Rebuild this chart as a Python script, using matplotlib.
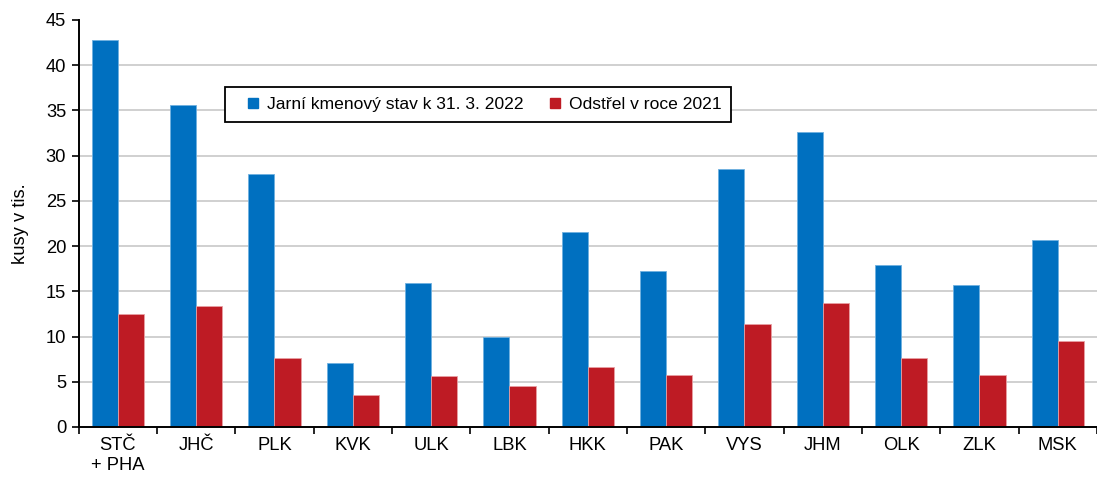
import matplotlib
matplotlib.use("Agg")
import matplotlib.pyplot as plt
from matplotlib.lines import Line2D
import numpy as np

plt.rcParams['font.family'] = ['Liberation Sans', 'DejaVu Sans']

categories = ["STČ\n+ PHA", "JHČ", "PLK", "KVK", "ULK", "LBK", "HKK", "PAK", "VYS", "JHM", "OLK", "ZLK", "MSK"]
jarni_stav = [42.8, 35.6, 28.0, 7.1, 15.9, 9.9, 21.6, 17.2, 28.5, 32.6, 17.9, 15.7, 20.7]
odstrel = [12.5, 13.4, 7.6, 3.5, 5.6, 4.5, 6.6, 5.8, 11.4, 13.7, 7.6, 5.8, 9.5]
labels = ["Jarní kmenový stav k 31. 3. 2022", "Odstřel v roce 2021"]
yticks = [0, 5, 10, 15, 20, 25, 30, 35, 40, 45]
colors = ["#0070C0", "#BE1B24"]

fs = 13.2
lfs = 12.6
fig = plt.figure(figsize=(10.97, 4.79), dpi=100)
ax = fig.add_axes([0.0717, 0.1086, 0.9283, 0.8497])

x = np.arange(len(categories))
w = 0.335
ax.bar(x - w/2, jarni_stav, w, color=colors[0], edgecolor="#6FB0E0", linewidth=0.6, zorder=3)
ax.bar(x + w/2, odstrel, w, color=colors[1], edgecolor="#E8A0A4", linewidth=0.6, zorder=3)

ax.set_xlim(-0.5, len(categories) - 0.5)
ax.set_ylim(0, 45)
ax.set_yticks(yticks)
ax.set_yticklabels([str(t) for t in yticks], fontsize=fs)
for t in yticks[1:-1]:
    ax.axhline(t, color="#C8C8C8", linewidth=1.2, zorder=1)

ax.set_xticks(x)
ax.set_xticklabels(categories, fontsize=fs, linespacing=1.25)
ax.tick_params(axis='x', length=0, pad=7)
ax.set_xticks(np.arange(len(categories) + 1) - 0.5, minor=True)
ax.tick_params(axis='x', which='minor', length=5, width=1.2, direction='out')
ax.tick_params(axis='y', length=5, width=1.2, direction='out', pad=4)

for s in ['top', 'right']:
    ax.spines[s].set_visible(False)
for s in ['left', 'bottom']:
    ax.spines[s].set_linewidth(1.4)
    ax.spines[s].set_zorder(4)

ax.set_ylabel("kusy v tis.", fontsize=fs, labelpad=12)

handles = [Line2D([], [], linestyle='none', marker='s', markersize=6.8,
                  markerfacecolor=c, markeredgecolor=c) for c in colors]
leg = ax.legend(handles, labels, loc='upper left', bbox_to_anchor=(0.1435, 0.835), ncol=2, fontsize=lfs,
                frameon=True, fancybox=False, edgecolor='black', framealpha=1,
                handlelength=2.1, handletextpad=-0.25, columnspacing=0.75,
                borderpad=0.55, borderaxespad=0)
leg.get_frame().set_linewidth(1.3)
leg.set_zorder(5)

fig.savefig("out.png", dpi=100)
